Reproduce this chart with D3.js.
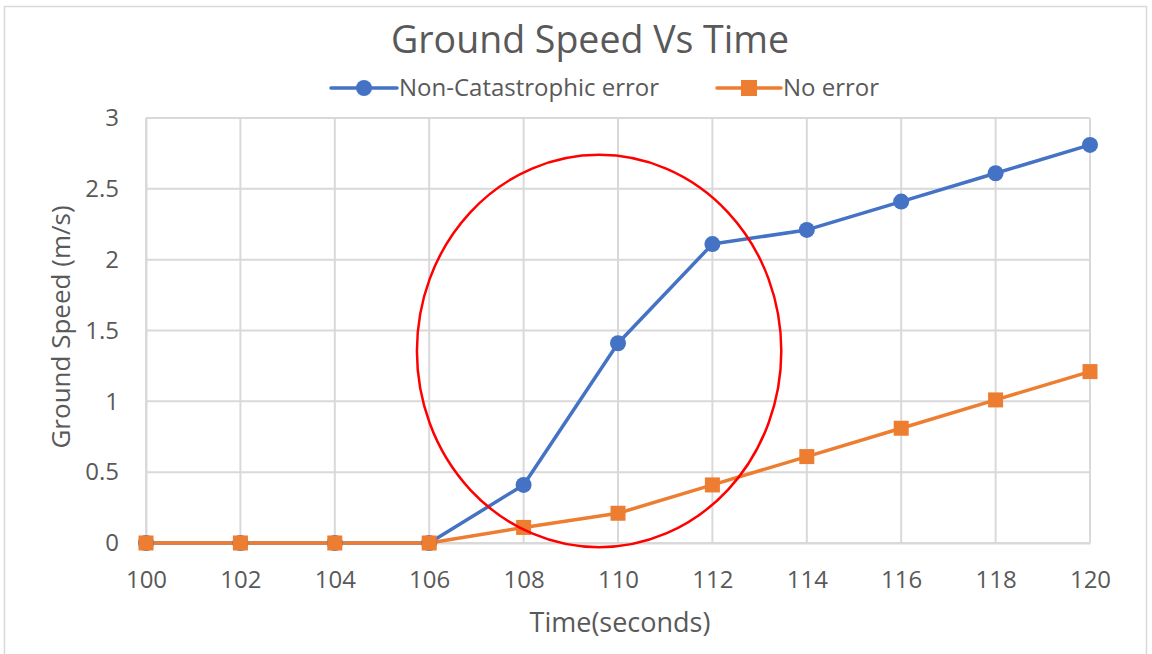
<!DOCTYPE html>
<html>
<head>
<meta charset="utf-8">
<script src="https://cdn.jsdelivr.net/npm/d3@7"></script>
<style>
  body { margin: 0; background: #fff; }
  text { font-family: "Open Sans", "Noto Sans", sans-serif; fill: #595959; }
</style>
</head>
<body>
<div id="chart"></div>
<script>
// Data
const times = [100, 102, 104, 106, 108, 110, 112, 114, 116, 118, 120];
const nonCatastrophic = [0, 0, 0, 0, 0.41, 1.41, 2.11, 2.21, 2.41, 2.61, 2.81];
const noError = [0, 0, 0, 0, 0.11, 0.21, 0.41, 0.61, 0.81, 1.01, 1.21];
const yTicks = [0, 0.5, 1, 1.5, 2, 2.5, 3];
const xTicks = [100, 102, 104, 106, 108, 110, 112, 114, 116, 118, 120];
const seriesNames = ["Non-Catastrophic error", "No error"];
// highlight ellipse in data units: centre, half-width, half-height
const highlight = { cx: 109.6, cy: 1.355, rx: 3.86, ry: 1.385 };

const W = 1152, H = 654;
const margin = { left: 146, right: 62, top: 118, bottom: 111 };
const width = W - margin.left - margin.right;
const height = H - margin.top - margin.bottom;

const blue = "#4472c4", orange = "#ed7d31", grid = "#d9d9d9";

const svg = d3.select("#chart").append("svg")
    .attr("width", W).attr("height", H);

// chart frame
svg.append("rect")
    .attr("x", 4.5).attr("y", 6.5)
    .attr("width", 1142).attr("height", 660)
    .attr("fill", "none").attr("stroke", grid).attr("stroke-width", 1.5);

const g = svg.append("g")
    .attr("transform", "translate(" + margin.left + "," + margin.top + ")");

const x = d3.scaleLinear().domain([100, 120]).range([0, width]);
const y = d3.scaleLinear().domain([0, 3]).range([height, 0]);

// gridlines
g.selectAll(".hgrid").data(yTicks).enter().append("line")
    .attr("x1", 0).attr("x2", width)
    .attr("y1", d => y(d)).attr("y2", d => y(d))
    .attr("stroke", grid).attr("stroke-width", 2);
g.selectAll(".vgrid").data(xTicks).enter().append("line")
    .attr("y1", 0).attr("y2", height)
    .attr("x1", d => x(d)).attr("x2", d => x(d))
    .attr("stroke", grid).attr("stroke-width", 2);

// axes
const xAxis = d3.axisBottom(x).tickValues(xTicks).tickSize(0).tickPadding(28);
const yAxis = d3.axisLeft(y).tickValues(yTicks).tickSize(0).tickPadding(27)
    .tickFormat(d3.format("~g"));

g.append("g").attr("transform", "translate(0," + height + ")").call(xAxis)
    .call(a => a.select(".domain").attr("stroke", grid).attr("stroke-width", 2))
    .selectAll("text").style("font-size", "24px").attr("fill", "#595959");
g.append("g").call(yAxis)
    .call(a => a.select(".domain").attr("stroke", grid).attr("stroke-width", 2))
    .selectAll("text").style("font-size", "24px").attr("fill", "#595959");

// lines
const line = d3.line().x((d, i) => x(times[i])).y(d => y(d));

g.append("path").datum(nonCatastrophic)
    .attr("d", line).attr("fill", "none")
    .attr("stroke", blue).attr("stroke-width", 3.5).attr("stroke-linejoin", "round");
g.append("path").datum(noError)
    .attr("d", line).attr("fill", "none")
    .attr("stroke", orange).attr("stroke-width", 3.5).attr("stroke-linejoin", "round");

// markers
g.selectAll(".dot").data(nonCatastrophic).enter().append("circle")
    .attr("cx", (d, i) => x(times[i])).attr("cy", d => y(d))
    .attr("r", 8).attr("fill", blue);
g.selectAll(".sq").data(noError).enter().append("rect")
    .attr("x", (d, i) => x(times[i]) - 7.5).attr("y", d => y(d) - 7.5)
    .attr("width", 15).attr("height", 15).attr("fill", orange);

// red highlight ellipse
g.append("ellipse")
    .attr("cx", x(highlight.cx)).attr("cy", y(highlight.cy))
    .attr("rx", x(100 + highlight.rx) - x(100))
    .attr("ry", y(0) - y(highlight.ry))
    .attr("fill", "none").attr("stroke", "#ff0000").attr("stroke-width", 2.5);

// title
svg.append("text")
    .attr("x", 590).attr("y", 53)
    .attr("text-anchor", "middle")
    .style("font-size", "37.5px")
    .text("Ground Speed Vs Time");

// legend
const legend = svg.append("g");
const lx = [331, 717];
const lw = [66, 64];
legend.selectAll(".lline").data(seriesNames).enter().append("line")
    .attr("x1", (d, i) => lx[i]).attr("x2", (d, i) => lx[i] + lw[i])
    .attr("y1", 88).attr("y2", 88)
    .attr("stroke", (d, i) => i === 0 ? blue : orange).attr("stroke-width", 3.5)
    .attr("stroke-linecap", "round");
legend.append("circle").attr("cx", lx[0] + lw[0] / 2).attr("cy", 88).attr("r", 8).attr("fill", blue);
legend.append("rect").attr("x", lx[1] + lw[1] / 2 - 8).attr("y", 80)
    .attr("width", 16).attr("height", 16).attr("fill", orange);
legend.selectAll(".ltext").data(seriesNames).enter().append("text")
    .attr("x", (d, i) => lx[i] + lw[i] + 2).attr("y", 96)
    .style("font-size", "24px")
    .text(d => d);

// axis titles
svg.append("text")
    .attr("x", 620).attr("y", 632)
    .attr("text-anchor", "middle")
    .style("font-size", "27px")
    .text("Time(seconds)");
svg.append("text")
    .attr("transform", "translate(70,327) rotate(-90)")
    .attr("text-anchor", "middle")
    .style("font-size", "26px")
    .text("Ground Speed (m/s)");
</script>
</body>
</html>
